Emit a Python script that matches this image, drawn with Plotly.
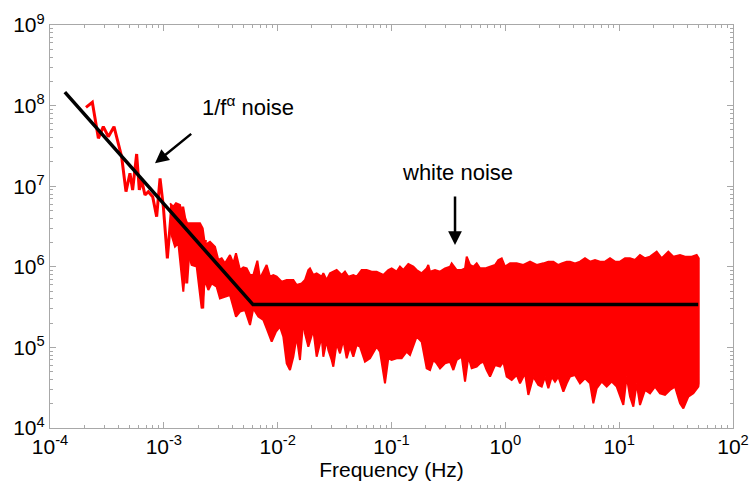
import plotly.graph_objects as go

# ---------------- data ----------------
# low-frequency part of the spectrum, drawn as a single line
line_f = [2.07e-4, 2.355e-4, 2.66e-4, 2.94e-4, 3.254e-4, 3.65e-4, 4.26e-4, 4.65e-4, 5.04e-4, 5.32e-4,
          5.77e-4, 6.09e-4, 6.39e-4, 6.83e-4, 7.31e-4, 7.98e-4, 8.65e-4, 9.26e-4, 9.9e-4, 1.074e-3,
          1.172e-3, 1.253e-3, 1.314e-3, 1.406e-3, 1.464e-3, 1.535e-3, 1.588e-3, 1.698e-3, 1.792e-3,
          1.878e-3, 2.01e-3, 2.107e-3, 2.194e-3, 2.315e-3]
line_p = [9.52e7, 1.098e8, 3.93e7, 5.48e7, 4.12e7, 5.48e7, 2.32e7, 8.55e6, 1.444e7, 8.97e6,
          2.51e7, 8.97e6, 1.19e7, 7.78e6, 8.55e6, 7.42e6, 4.19e6, 1.252e7, 5.57e6, 1.274e6,
          5.57e6, 3.46e6, 5.85e6, 1.777e6, 5.57e6, 3.81e6, 6.23e5, 2.48e6, 3.46e6,
          1.336e6, 3.46e6, 1.004e6, 3.05e5, 2.15e6]

# dense part of the spectrum: upper envelope of the spikes
upper_f = [1.133e-3, 1.212e-3, 1.279e-3, 1.387e-3, 1.434e-3, 1.535e-3, 1.609e-3, 1.756e-3, 1.943e-3, 2.078e-3,
           2.194e-3, 2.30e-3, 2.544e-3, 2.814e-3, 3.011e-3, 3.221e-3, 3.446e-3, 3.813e-3, 4.079e-3, 4.305e-3,
           4.668e-3, 4.994e-3, 5.341e-3, 5.715e-3, 6.113e-3, 6.63e-3, 6.995e-3, 8.0e-3, 8.56e-3, 9.16e-3,
           9.80e-3, 1.084e-2, 1.2e-2,
           0.01373, 0.01468, 0.01624, 0.01737, 0.01859, 0.01923, 0.02057, 0.0220, 0.02434, 0.02518,
           0.02694, 0.02882, 0.03083, 0.03297, 0.03649, 0.03903, 0.04175, 0.0462, 0.04942, 0.05286,
           0.05468, 0.0605, 0.06695, 0.07405, 0.07922, 0.08474, 0.09375, 0.1003, 0.111, 0.1187,
           0.127, 0.1405, 0.1555, 0.1663, 0.184, 0.2036, 0.2105,
           0.218, 0.2411, 0.2669, 0.2952, 0.3268, 0.3379, 0.3739, 0.4135, 0.4425, 0.4578,
           0.4896, 0.5238, 0.5603, 0.5993, 0.6632, 0.7338, 0.8119, 0.8687, 0.9291, 0.9939,
           1.10, 1.258, 1.44, 1.648, 1.886, 2.158, 2.387, 2.642, 2.923, 3.126, 3.46,
           3.70, 4.092, 4.529, 5.01, 5.546, 6.135, 6.79, 7.511, 8.31, 9.19,
           10.17, 11.26, 12.45, 13.78, 15.24, 16.87, 18.66, 21.36, 23.64, 27.04,
           29.92, 34.24, 37.89, 43.36, 47.95, 50.0]
upper_p = [6.13e6, 5.57e6, 6.13e6, 5.85e6, 4.19e6, 3.99e6, 3.46e6, 3.46e6, 3.46e6, 3.46e6,
           3.0e6, 1.864e6, 2.05e6, 1.777e6, 1.214e6, 1.274e6, 1.104e6, 1.401e6, 1.104e6, 1.469e6,
           9.13e5, 9.85e5, 9.57e5, 7.91e5, 7.91e5, 1.192e6, 7.19e5, 1.053e6, 7.54e5, 7.91e5,
           7.54e5, 6.54e5, 6.86e5,
           6.86e5, 5.95e5, 6.23e5, 6.86e5, 9.13e5, 9.57e5, 7.91e5, 8.30e5, 7.54e5, 8.30e5,
           6.86e5, 8.30e5, 8.70e5, 9.13e5, 7.91e5, 8.70e5, 7.54e5, 7.91e5, 7.54e5, 8.70e5,
           9.13e5, 9.13e5, 8.70e5, 8.70e5, 8.30e5, 7.91e5, 9.13e5, 9.57e5, 8.70e5, 1.004e6,
           9.13e5, 1.083e6, 1.004e6, 9.13e5, 8.30e5, 9.57e5, 1.053e6,
           8.70e5, 9.13e5, 8.70e5, 9.57e5, 1.004e6, 1.104e6, 9.13e5, 9.13e5, 9.57e5, 1.336e6,
           1.053e6, 1.004e6, 1.104e6, 9.57e5, 9.57e5, 1.004e6, 1.053e6, 1.215e6, 1.274e6, 1.004e6,
           1.104e6, 1.104e6, 1.053e6, 1.158e6, 1.053e6, 1.104e6, 1.158e6, 1.158e6, 1.053e6, 1.104e6, 1.158e6,
           1.158e6, 1.104e6, 1.158e6, 1.274e6, 1.158e6, 1.215e6, 1.158e6, 1.158e6, 1.274e6, 1.158e6,
           1.158e6, 1.274e6, 1.274e6, 1.215e6, 1.401e6, 1.274e6, 1.336e6, 1.541e6, 1.274e6, 1.541e6,
           1.336e6, 1.401e6, 1.336e6, 1.336e6, 1.401e6, 1.274e6]

# dense part of the spectrum: lower envelope of the spikes
lower_f = [1.133e-3, 1.253e-3, 1.341e-3, 1.483e-3, 1.588e-3, 1.756e-3, 1.943e-3, 2.15e-3, 2.30e-3, 2.46e-3,
           2.633e-3, 2.91e-3, 3.113e-3, 3.446e-3, 3.813e-3, 4.305e-3, 4.668e-3, 5.164e-3, 5.715e-3, 6.113e-3,
           6.763e-3, 7.48e-3, 8.0e-3, 8.86e-3, 9.67e-3, 1.048e-2, 1.121e-2, 1.2e-2,
           0.01283, 0.01373, 0.01468, 0.0157, 0.01681, 0.01737, 0.01859, 0.02057, 0.0220, 0.02434,
           0.02518, 0.02694, 0.02787, 0.0298, 0.03083, 0.03297, 0.03527, 0.03773, 0.04038, 0.04319,
           0.0462, 0.04942, 0.05286, 0.05849, 0.06471, 0.07405, 0.07922, 0.08765, 0.09375, 0.1003,
           0.111, 0.1228, 0.1359, 0.1454, 0.1663, 0.184, 0.2036,
           0.218, 0.2334, 0.2494, 0.2669, 0.2952, 0.3268, 0.3495, 0.3739, 0.4135, 0.4425,
           0.4735, 0.5064, 0.5603, 0.5993, 0.6411, 0.686, 0.7338, 0.8118, 0.8982, 0.961,
           1.028, 1.138, 1.258, 1.346, 1.489, 1.593, 1.763, 1.95, 2.087, 2.232,
           2.387, 2.555, 2.732, 2.923, 3.235, 3.46,
           3.70, 4.092, 4.529, 5.01, 5.546, 5.931, 6.345, 7.019, 7.77, 8.595,
           9.509, 10.17, 10.88, 11.64, 12.45, 13.32, 14.25, 15.24, 16.87, 18.66,
           20.65, 22.85, 25.28, 27.96, 30.94, 34.24, 36.63, 40.52, 44.84, 49.62, 50.0]
lower_p = [2.86e6, 1.777e6, 1.955e6, 4.91e5, 1.616e6, 1.053e6, 1.004e6, 3.05e5, 6.86e5, 5.15e5,
           6.23e5, 5.67e5, 4.06e5, 4.26e5, 4.47e5, 2.41e5, 2.78e5, 2.91e5, 1.896e5, 3.05e5,
           2.41e5, 2.19e5, 1.724e5, 1.178e5, 1.568e5, 1.808e5, 1.359e5, 6.34e4,
           5.24e4, 7.67e4, 1.359e5, 6.98e4, 2.19e5, 1.495e5, 1.021e5, 1.644e5, 7.67e4, 1.359e5,
           7.67e4, 1.236e5, 9.29e4, 6.98e4, 5.77e4, 1.123e5, 8.44e4, 1.236e5, 7.32e4, 1.021e5,
           7.67e4, 1.071e5, 1.021e5, 6.65e4, 7.32e4, 1.021e5, 8.85e4, 3.58e4, 7.32e4, 6.98e4,
           7.32e4, 7.32e4, 8.85e4, 8.05e4, 1.359e5, 1.178e5, 5.50e4,
           5.24e4, 6.98e4, 6.34e4, 5.50e4, 6.34e4, 6.65e4, 5.24e4, 6.98e4, 7.67e4, 3.76e4,
           7.67e4, 5.50e4, 5.77e4, 6.34e4, 6.65e4, 5.24e4, 4.34e4, 6.05e4, 5.77e4, 6.65e4,
           4.34e4, 3.94e4, 4.55e4, 3.58e4, 4.77e4, 2.57e4, 4.34e4, 3.42e4, 3.26e4, 4.34e4,
           3.11e4, 4.34e4, 3.76e4, 4.34e4, 2.82e4, 3.58e4,
           4.34e4, 4.55e4, 3.58e4, 4.13e4, 3.58e4, 2.02e4, 3.11e4, 3.76e4, 3.26e4, 3.76e4,
           3.26e4, 2.57e4, 1.93e4, 4.34e4, 2.45e4, 1.84e4, 3.58e4, 1.93e4, 2.96e4, 2.69e4,
           3.26e4, 2.69e4, 2.57e4, 2.96e4, 3.26e4, 2.02e4, 1.75e4, 2.45e4, 2.69e4, 3.26e4, 3.58e4]

# fitted model: 1/f^alpha part meeting the white-noise floor
fit_f = [1.35e-4, 6.07e-3, 49.4]
fit_p = [1.47e8, 3.4e5, 3.4e5]

x_tickvals = [1e-4, 1e-3, 1e-2, 1e-1, 1e0, 1e1, 1e2]
x_ticktext = ["10<sup>-4</sup>", "10<sup>-3</sup>", "10<sup>-2</sup>", "10<sup>-1</sup>",
              "10<sup>0</sup>", "10<sup>1</sup>", "10<sup>2</sup>"]
y_tickvals = [1e4, 1e5, 1e6, 1e7, 1e8, 1e9]
y_ticktext = ["10<sup>4</sup>", "10<sup>5</sup>", "10<sup>6</sup>", "10<sup>7</sup>",
              "10<sup>8</sup>", "10<sup>9</sup>"]

# ---------------- figure ----------------
RED = "#ff0000"
AXC = "#a8a8a8"
FONT = "Liberation Sans, Arial, Helvetica, sans-serif"

fig = go.Figure()

band_x = upper_f + lower_f[::-1]
band_y = upper_p + lower_p[::-1]
fig.add_trace(go.Scatter(x=band_x, y=band_y, mode="lines", fill="toself",
                         fillcolor=RED, line=dict(color=RED, width=2),
                         hoverinfo="skip", showlegend=False))
fig.add_trace(go.Scatter(x=line_f, y=line_p, mode="lines",
                         line=dict(color=RED, width=3), showlegend=False))
fig.add_trace(go.Scatter(x=fit_f, y=fit_p, mode="lines",
                         line=dict(color="black", width=3.5), showlegend=False))


def minor_vals(lo, hi):
    return [k * 10.0 ** e for e in range(lo, hi) for k in range(2, 10)]


axis_common = dict(
    type="log", showgrid=False, zeroline=False, automargin=False,
    showline=True, linecolor=AXC, linewidth=1.2, mirror="allticks",
    ticks="inside", ticklen=6, tickwidth=1, tickcolor=AXC,
    tickfont=dict(family=FONT, size=21, color="black"),
    tickmode="array",
)

fig.update_xaxes(**axis_common, range=[-4, 2], tickvals=x_tickvals, ticktext=x_ticktext,
                 minor=dict(tickmode="array", tickvals=minor_vals(-4, 2), ticks="inside",
                            ticklen=3, tickcolor=AXC, showgrid=False),
                 title=dict(text="Frequency (Hz)", font=dict(family=FONT, size=21, color="black"),
                            standoff=4))
fig.update_yaxes(**axis_common, range=[4, 9], tickvals=y_tickvals, ticktext=y_ticktext,
                 minor=dict(tickmode="array", tickvals=minor_vals(4, 9), ticks="inside",
                            ticklen=3, tickcolor=AXC, showgrid=False))

fig.add_annotation(x=-2.26, y=8.0, xref="x", yref="y", text="1/f<sup>α</sup> noise",
                   showarrow=False, font=dict(family=FONT, size=22, color="black"))
fig.add_annotation(x=-0.4245, y=7.176, xref="x", yref="y", text="white noise",
                   showarrow=False, font=dict(family=FONT, size=22, color="black"))
fig.add_annotation(x=-3.0776, y=7.284, ax=-2.7464, ay=7.664, xref="x", yref="y",
                   axref="x", ayref="y", text="", showarrow=True,
                   arrowhead=2, arrowsize=1.1, arrowwidth=2.5, arrowcolor="black")
fig.add_annotation(x=-0.442, y=6.270, ax=-0.442, ay=6.891, xref="x", yref="y",
                   axref="x", ayref="y", text="", showarrow=True,
                   arrowhead=2, arrowsize=1.1, arrowwidth=2.5, arrowcolor="black")

fig.update_layout(width=749, height=491,
                  margin=dict(l=50, r=16, t=25, b=63),
                  paper_bgcolor="white", plot_bgcolor="white",
                  font=dict(family=FONT, color="black"),
                  showlegend=False)

fig.write_html("out.html")
